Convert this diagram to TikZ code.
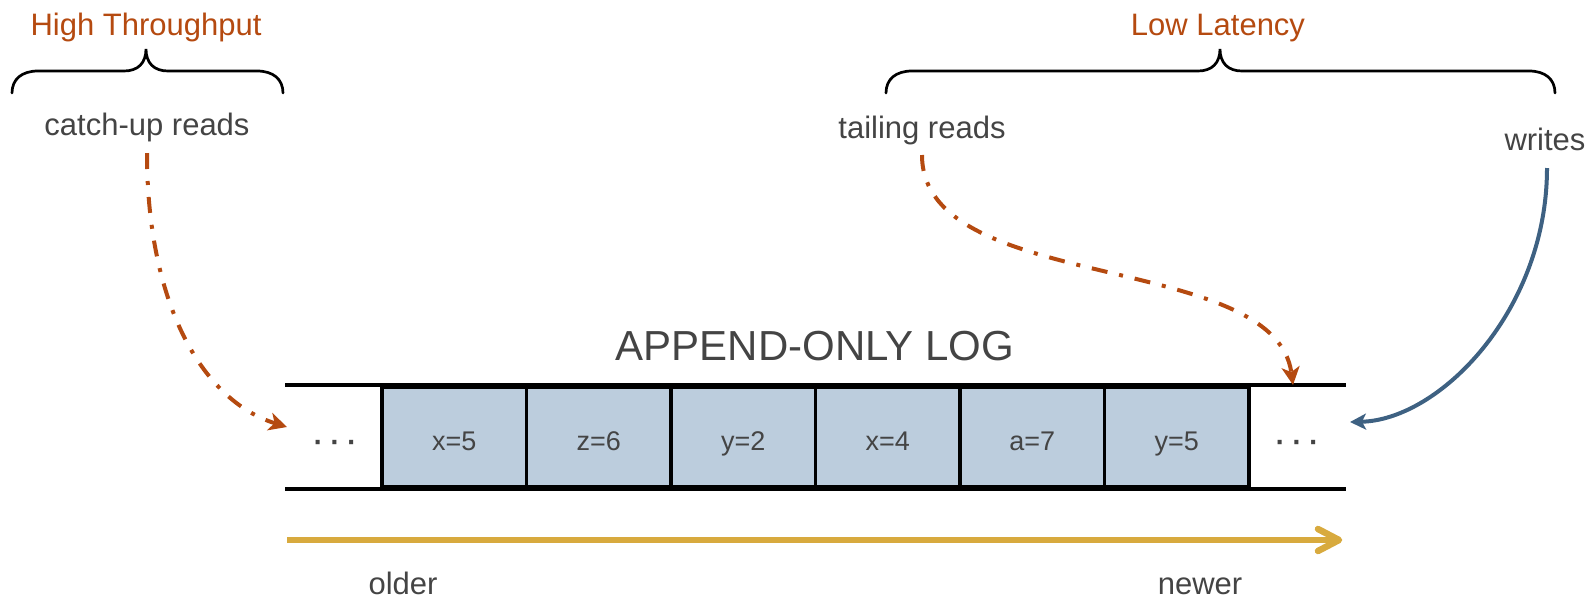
\documentclass[tikz,border=0pt]{standalone}
\usepackage{fontspec}
\setmainfont{Liberation Sans}
\newfontfamily\dotfont{DejaVu Sans}
\usetikzlibrary{arrows.meta}
\definecolor{ink}{RGB}{68,68,68}
\definecolor{rust}{RGB}{181,74,16}
\definecolor{steel}{RGB}{62,97,130}
\definecolor{gold}{RGB}{216,170,62}
\definecolor{cellfill}{RGB}{188,205,221}
\tikzset{
  lbl/.style={text=ink, inner sep=0pt, anchor=base, font=\fontsize{31}{36}\selectfont},
  hdr/.style={lbl, text=rust},
  cell/.style={draw=black, line width=3.8pt, fill=cellfill, minimum width=144.5pt,
    minimum height=100pt, inner sep=0pt, text height=26pt, text depth=0pt,
    text=ink, font=\fontsize{27}{32}\selectfont},
  gap/.style={cell, draw=none, fill=none, minimum width=95pt,
    font=\dotfont\bfseries\fontsize{23}{28}\selectfont},
  brace/.style={line width=2.7pt, line cap=round},
  readarrow/.style={rust, line width=4pt,
    dash pattern=on 16pt off 12pt on 4pt off 12pt,
    -{Stealth[length=18pt,width=18pt,inset=5pt]}},
  writearrow/.style={steel, line width=4pt,
    -{Stealth[length=16pt,width=16pt,inset=4pt]}},
  timeline/.style={gold, line width=6.5pt},
  logedge/.style={line width=3.8pt},
}
\begin{document}
\begin{tikzpicture}[x=1pt,y=-1pt]
\useasboundingbox (0,0) rectangle (1591,598);

% group headings and their braces
\node[hdr] (ht) at (146,35) {High Throughput};
\node[hdr] (ll) at (1218,35) {Low Latency};
\draw[brace] (12,93) .. controls (12,79) and (22,71) .. (38,71) -- (124,71)
  .. controls (138,71) and (146,63) .. (146,49)
  .. controls (146,63) and (154,71) .. (168,71) -- (257,71)
  .. controls (273,71) and (283,79) .. (283,93);
\draw[brace] (886,93) .. controls (886,79) and (896,71) .. (912,71) -- (1198,71)
  .. controls (1212,71) and (1220,63) .. (1220,49)
  .. controls (1220,63) and (1228,71) .. (1242,71) -- (1529,71)
  .. controls (1545,71) and (1555,79) .. (1555,93);

% clients
\node[lbl] (cu) at (147,135) {catch-up reads};
\node[lbl] (tr) at (922,138) {tailing reads};
\node[lbl] (wr) at (1545,150) {writes};

% the log
\node[lbl, font=\fontsize{42}{48}\selectfont] (title) at (815,360) {APPEND-ONLY LOG};
\node[gap] (g0) at (334.5,437) {· · ·};
\node[cell] (c1) at (454.25,437) {x=5};
\node[cell] (c2) at (598.75,437) {z=6};
\node[cell] (c3) at (743.25,437) {y=2};
\node[cell] (c4) at (887.75,437) {x=4};
\node[cell] (c5) at (1032.25,437) {a=7};
\node[cell] (c6) at (1176.75,437) {y=5};
\node[gap] (g1) at (1296.5,437) {· · ·};
\draw[logedge] (g0.north west) -- (g1.north east);
\draw[logedge] (g0.south west) -- (g1.south east);

% access paths
\coordinate (cuOut) at (147,153);
\coordinate (g0In) at (287,427);
\coordinate (trOut) at (922,155);
\coordinate (g1Top) at (1293,385);
\coordinate (wrOut) at (1547,168);
\coordinate (g1In) at (1350,422);
\draw[readarrow] (cuOut) .. controls (147,300) and (200,400) .. (g0In);
\draw[readarrow] (trOut) .. controls (922,295) and (1275,250) .. (g1Top);
\draw[writearrow] (wrOut) .. controls (1547,310) and (1440,420) .. (g1In);

% time axis
\coordinate (tS) at (287,540);
\coordinate (tE) at (1339,540);
\draw[timeline] (tS) -- (tE);
\draw[timeline, line cap=round, line join=round] (1318,529) -- (tE) -- (1318,551);
\node[lbl] (old) at (403,594) {older};
\node[lbl] (new) at (1200,594) {newer};
\end{tikzpicture}
\end{document}
